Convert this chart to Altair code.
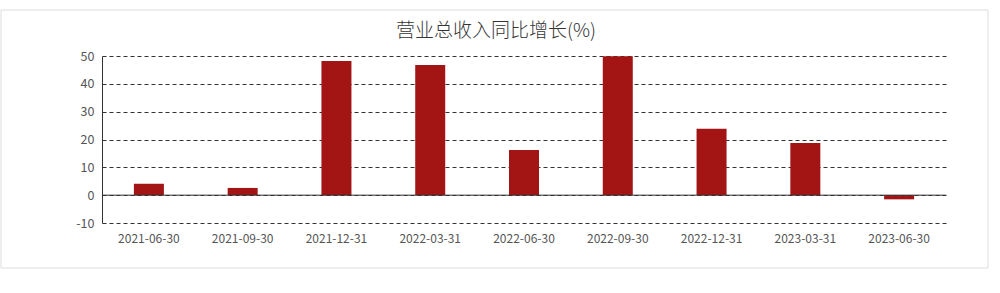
import altair as alt
import pandas as pd

dates = ["2021-06-30", "2021-09-30", "2021-12-31", "2022-03-31", "2022-06-30",
         "2022-09-30", "2022-12-31", "2023-03-31", "2023-06-30"]
growth = [4.1, 2.6, 48.2, 46.8, 16.2, 49.9, 23.9, 18.7, -1.5]
y_ticks = [-10, 0, 10, 20, 30, 40, 50]
title_text = "营业总收入同比增长(%)"

df = pd.DataFrame({"date": dates, "growth": growth})
FONT = "Noto Sans CJK SC"
YS = alt.Scale(domain=[-10, 50], nice=False)
YAXIS = alt.Axis(values=y_ticks, domain=True, domainColor="#333",
                 ticks=False, labelOverlap=False,
                 labelExpr="replace(format(datum.value, 'd'), '−', '-')",
                 labelFont=FONT, labelFontSize=12.5, labelColor="#555", labelPadding=8,
                 grid=True, gridColor="#333", gridDash=[4, 3], gridWidth=1)

bars = alt.Chart(df).mark_bar(color="#A31515", width=30).encode(
    x=alt.X("date:N", sort=dates, title=None,
            scale=alt.Scale(paddingInner=0, paddingOuter=0),
            axis=alt.Axis(domain=False, ticks=False, labelAngle=0, labelPadding=10,
                          labelFont=FONT, labelFontSize=12, labelColor="#555", grid=False)),
    y=alt.Y("growth:Q", title=None, scale=YS, axis=YAXIS),
)

zero = alt.Chart(pd.DataFrame({"z": [0]})).mark_rule(color="#333", strokeWidth=1).encode(
    y=alt.Y("z:Q", title=None, scale=YS, axis=YAXIS)
)

border = alt.Chart(pd.DataFrame({"a": [0]})).mark_rect(
    fill=None, stroke="#dddddd", strokeWidth=1
).encode(x=alt.value(-101), x2=alt.value(886), y=alt.value(-46), y2=alt.value(212))

title = alt.Chart(pd.DataFrame({"t": [title_text]})).mark_text(
    font=FONT, fontSize=19, fontWeight=300, color="#333", align="center", baseline="middle"
).encode(text="t:N", x=alt.value(394), y=alt.value(-25))

chart = alt.layer(border, bars, zero, title).properties(
    width=844, height=167,
    autosize=alt.AutoSizeParams(type="none"),
    padding={"left": 102, "top": 56, "right": 54, "bottom": 70},
).configure_view(stroke=None)

chart.save("out.html", embed_options={"renderer": "svg", "actions": False})
